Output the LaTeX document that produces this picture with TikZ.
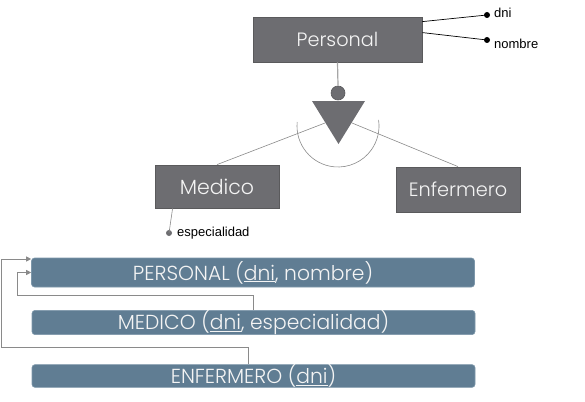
\documentclass[tikz,border=0pt]{standalone}
\usepackage{fontspec}
\setmainfont{Poppins}[UprightFont=* Light]
\newfontfamily\attrfont{Liberation Sans}
\usetikzlibrary{calc,arrows.meta,shapes.geometric}
\definecolor{boxgray}{HTML}{6D6D71}
\definecolor{boxedge}{HTML}{5A5A5C}
\definecolor{barblue}{HTML}{607D93}
\definecolor{baredge}{HTML}{7D97AA}
\definecolor{txtw}{HTML}{F4F4F4}
\definecolor{linegray}{HTML}{8A8A8A}
\tikzset{
  ebox/.style={draw=boxedge, fill=boxgray, line width=0.8pt, text=txtw, inner sep=0pt, font=\fontsize{19.3}{19}\selectfont},
  bar/.style={draw=baredge, fill=barblue, line width=0.6pt, rounded corners=3pt, text=txtw, inner sep=0pt, minimum width=443pt, font=\fontsize{20.3}{20}\selectfont},
  attr/.style={font=\attrfont\fontsize{13}{13}\selectfont, inner sep=0pt, anchor=west},
  dotb/.style={circle, fill=black, inner sep=0pt, minimum size=6pt},
  dotg/.style={circle, fill=boxgray, inner sep=0pt, minimum size=6pt},
  thin/.style={draw=linegray, line width=0.6pt},
  conn/.style={draw=linegray, line width=0.8pt, -{Triangle[length=5pt,width=5pt]}}
}
\begin{document}
\begin{tikzpicture}[x=1pt,y=-1pt]
\useasboundingbox (0,0) rectangle (585,401);
% ER part
\node[ebox, minimum width=169pt, minimum height=45pt] (per) at (337.5,39.5) {Personal};
\node[dotb] (dni) at (487,15) {};
\node[dotb] (nom) at (487,40) {};
\node[attr] (dnil) at (494,13) {dni};
\node[attr] (noml) at (494,44) {nombre};
\draw[black, line width=0.7pt] ($(per.north east)+(0,5)$) -- (dni.center);
\draw[black, line width=0.7pt] ($(per.north east)+(0,16)$) -- (nom.center);
\node[circle, draw=boxedge, fill=boxgray, line width=0.6pt, minimum size=14pt, inner sep=0pt] (c) at (338,93) {};
\draw[draw=gray!70, line width=1.2pt] (per.south) -- (c.north);
\fill[boxgray] (312,101) -- (365,101) -- (338.5,144) -- cycle;
\coordinate (tl) at (325,123);
\coordinate (tr) at (352,123);
\draw[draw=linegray, line width=0.6pt] (338,126) +(185.6:41) arc[start angle=185.6, end angle=-8.5, radius=41];
\node[ebox, minimum width=124pt, minimum height=43pt, font=\fontsize{20.5}{20}\selectfont] (med) at (217,186.5) {Medico};
\node[ebox, minimum width=124pt, minimum height=45pt] (enf) at (458,189.5) {Enfermero};
\draw[thin] (tl) -- (med.north);
\draw[thin] (tr) -- (enf.north);
\node[dotg] (esp) at (169,233) {};
\draw[thin] ($(med.south west)+(18,0)$) -- (esp.center);
\node[attr] (espl) at (177,233) {especialidad};
% relational part
\node[bar, minimum height=29pt] (rp) at (253,272.5) {PERSONAL (\underline{dni}, nombre)};
\node[bar, minimum height=21pt] (rm) at (253.5,322.5) {MEDICO (\underline{dni}, especialidad)};
\node[bar, minimum height=22pt] (re) at (253.5,376) {ENFERMERO (\underline{dni})};
\coordinate (m1) at (17,295);
\coordinate (e1) at (1,347);
\draw[conn] (rm.north) |- (m1) |- (rp.west);
\draw[conn] ($(re.north)+(-5,0)$) |- (e1) |- ($(rp.west)+(0,-13.5)$);
\end{tikzpicture}
\end{document}
